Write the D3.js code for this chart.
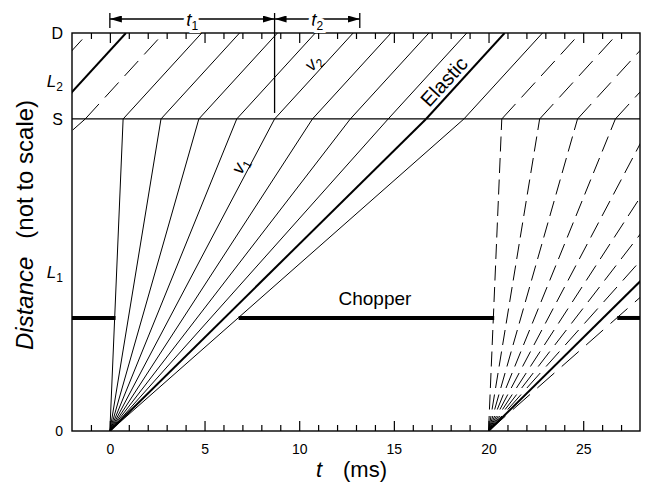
<!DOCTYPE html>
<html>
<head>
<meta charset="utf-8">
<script src="https://cdn.jsdelivr.net/npm/d3@7"></script>
<style>
  body { margin: 0; background: #fff; }
  svg { display: block; font-family: "Liberation Sans", Arial, sans-serif; }
</style>
</head>
<body>
<div class="chart"></div>
<script>
// times in ms, distances in arbitrary units (the plot is "not to scale")
const frameStarts = [-20, 0, 20];
const sampleTimes = [0.7, 2.7, 4.7, 6.7, 8.7, 10.7, 12.7, 14.7, 16.7, 18.7];
const elasticTime = 16.7;
const finalFlightTime = 4.15;
const chopperPos = 2.84;
const samplePos = 7.84;
const detectorPos = 10;
const chopperClosed = [[-2, 0.3], [6.8, 20.3], [26.8, 28]];
const majorTicks = [0, 5, 10, 15, 20, 25];
const minorTicks = [-1, 1, 2, 3, 4, 6, 7, 8, 9, 11, 12, 13, 14, 16, 17, 18, 19, 21, 22, 23, 24, 26, 27];
const distanceLabels = [['0', 0], ['S', samplePos], ['D', detectorPos]];
const lengthLabels = [['1', 4.0], ['2', 8.8]];
const t1Span = [0, 8.7];
const t2Span = [8.7, 13.2];

const margin = { left: 72, right: 5, top: 33, bottom: 54 };
const W = 645, H = 485;

const svg = d3.select('.chart')
  .append('svg')
    .attr('width', W)
    .attr('height', H);

const x = d3.scaleLinear().domain([-2, 28]).range([margin.left, W - margin.right]);
const y = d3.scaleLinear().domain([0, detectorPos]).range([H - margin.bottom, margin.top]);

const defs = svg.append('defs');
defs.append('clipPath')
    .attr('id', 'clip')
  .append('rect')
    .attr('x', x(-2))
    .attr('y', y(detectorPos))
    .attr('width', x(28) - x(-2))
    .attr('height', y(0) - y(detectorPos));

defs.append('marker')
    .attr('id', 'arrow')
    .attr('viewBox', '0 0 12 7')
    .attr('refX', 12)
    .attr('refY', 3.5)
    .attr('markerWidth', 12)
    .attr('markerHeight', 7)
    .attr('markerUnits', 'userSpaceOnUse')
    .attr('orient', 'auto-start-reverse')
  .append('path')
    .attr('d', 'M0,0L12,3.5L0,7z')
    .attr('fill', '#000');

// neutron trajectories: source -> sample (v1), sample -> detector (v2)
const segments = [];
frameStarts.forEach(f => {
  sampleTimes.forEach(ts => {
    const elastic = ts === elasticTime;
    const dashed = f !== 0 && !elastic;
    segments.push({ pts: [[f, 0], [f + ts, samplePos]], elastic, dashed });
    segments.push({ pts: [[f + ts, samplePos], [f + ts + finalFlightTime, detectorPos]], elastic, dashed });
  });
});

const line = d3.line().x(d => x(d[0])).y(d => y(d[1]));

const plot = svg.append('g')
    .attr('clip-path', 'url(#clip)');

plot.selectAll('.ray')
  .data(segments)
  .enter()
  .append('path')
    .attr('class', 'ray')
    .attr('d', d => line(d.pts))
    // dash pattern measured in vertical pixels so dashes line up across rays
    .attr('pathLength', d => Math.abs(y(d.pts[0][1]) - y(d.pts[1][1])))
    .attr('stroke-dasharray', d => d.dashed ? '15 6.5' : null)
    .attr('fill', 'none')
    .attr('stroke', '#000')
    .attr('stroke-width', d => d.elastic ? 2 : 1);

// sample line
plot.append('line')
    .attr('x1', x(-2))
    .attr('x2', x(28))
    .attr('y1', y(samplePos))
    .attr('y2', y(samplePos))
    .attr('stroke', '#000')
    .attr('stroke-width', 1.2);

// chopper closed
plot.selectAll('.chopper')
  .data(chopperClosed)
  .enter()
  .append('line')
    .attr('x1', d => x(d[0]))
    .attr('x2', d => x(d[1]))
    .attr('y1', y(chopperPos))
    .attr('y2', y(chopperPos))
    .attr('stroke', '#000')
    .attr('stroke-width', 4);

// axes
const addTicks = (axis, yPos, values, size, labels) => {
  const g = svg.append('g')
      .attr('transform', `translate(0,${yPos})`)
      .call(axis(x).tickValues(values).tickSize(size).tickSizeOuter(0).tickPadding(13)
        .tickFormat(labels ? d3.format('d') : ''));
  g.select('.domain').remove();
  g.selectAll('line').attr('stroke-width', 1.2);
  g.selectAll('text')
      .attr('font-size', 14)
      .attr('font-family', '"Liberation Sans", Arial, sans-serif');
};
addTicks(d3.axisBottom, y(0), majorTicks, -10, true);
addTicks(d3.axisBottom, y(0), minorTicks, -6, false);
addTicks(d3.axisTop, y(detectorPos), majorTicks, -10, false);
addTicks(d3.axisTop, y(detectorPos), minorTicks, -6, false);

svg.append('rect')
    .attr('x', x(-2))
    .attr('y', y(detectorPos))
    .attr('width', x(28) - x(-2))
    .attr('height', y(0) - y(detectorPos))
    .attr('fill', 'none')
    .attr('stroke', '#000')
    .attr('stroke-width', 1.4);

// distance labels
svg.selectAll('.dlab')
  .data(distanceLabels)
  .enter()
  .append('text')
    .attr('x', 63)
    .attr('y', d => y(d[1]))
    .attr('dy', '0.35em')
    .attr('text-anchor', 'end')
    .attr('font-size', d => d[0] === '0' ? 14 : 16)
    .text(d => d[0]);

const lLab = svg.selectAll('.llab')
  .data(lengthLabels)
  .enter()
  .append('text')
    .attr('x', 63)
    .attr('y', d => y(d[1]))
    .attr('dy', '0.35em')
    .attr('text-anchor', 'end')
    .attr('font-size', 17);
lLab.append('tspan').attr('font-style', 'italic').text('L');
lLab.append('tspan').attr('font-size', 12).attr('dy', 4).text(d => d[0]);

// axis titles
const yTitle = svg.append('text')
    .attr('transform', `translate(33,${y(0) - 81}) rotate(-90)`)
    .attr('font-size', 24);
yTitle.append('tspan').attr('font-style', 'italic').text('Distance');
yTitle.append('tspan').attr('dx', 18).text('(not to scale)');

svg.append('text')
    .attr('x', 316)
    .attr('y', 477)
    .attr('font-size', 22)
    .attr('font-style', 'italic')
    .text('t');
svg.append('text')
    .attr('x', 343)
    .attr('y', 477)
    .attr('font-size', 22)
    .text('(ms)');

// chopper label
svg.append('text')
    .attr('x', x(14))
    .attr('y', y(chopperPos) - 13)
    .attr('text-anchor', 'middle')
    .attr('font-size', 19)
    .text('Chopper');

// labels sitting just above a trajectory, rotated along it
const alongLabel = (p0, p1, frac, offset) => {
  const px0 = x(p0[0]), py0 = y(p0[1]), px1 = x(p1[0]), py1 = y(p1[1]);
  const ang = Math.atan2(py1 - py0, px1 - px0) * 180 / Math.PI;
  const t = svg.append('text')
      .attr('transform', `translate(${px0 + frac * (px1 - px0)},${py0 + frac * (py1 - py0)}) rotate(${ang})`)
      .attr('dy', offset)
      .attr('text-anchor', 'middle');
  return t;
};
const eS = [elasticTime, samplePos], eD = [elasticTime + finalFlightTime, detectorPos];
alongLabel(eS, eD, 0.34, -5).attr('font-size', 20).text('Elastic');

const v1 = alongLabel([0, 0], [8.7, samplePos], 0.837, -3).attr('font-size', 18);
v1.append('tspan').attr('font-style', 'italic').text('v');
v1.append('tspan').attr('font-size', 12).attr('dy', 4).text('1');

const v2 = alongLabel([8.7, samplePos], [8.7 + finalFlightTime, detectorPos], 0.58, -4).attr('font-size', 18);
v2.append('tspan').attr('font-style', 'italic').text('v');
v2.append('tspan').attr('font-size', 12).attr('dy', 4).text('2');

// t1 / t2 span arrows
const arrowY = 19;
[t1Span, t2Span].forEach((span, i) => {
  svg.append('line')
      .attr('x1', x(span[0]))
      .attr('x2', x(span[1]))
      .attr('y1', arrowY)
      .attr('y2', arrowY)
      .attr('stroke', '#000')
      .attr('stroke-width', 1.3)
      .attr('marker-start', 'url(#arrow)')
      .attr('marker-end', 'url(#arrow)');
  const lab = svg.append('text')
      .attr('x', (x(span[0]) + x(span[1])) / 2)
      .attr('y', arrowY + 7)
      .attr('text-anchor', 'middle')
      .attr('font-size', 19)
      .attr('stroke', '#fff')
      .attr('stroke-width', 6)
      .attr('paint-order', 'stroke');
  lab.append('tspan').attr('font-style', 'italic').text('t');
  lab.append('tspan').attr('font-size', 12).attr('dy', 4).text(i + 1);
});
[t1Span[0], t2Span[1]].forEach(t => {
  svg.append('line')
      .attr('x1', x(t)).attr('x2', x(t))
      .attr('y1', 13).attr('y2', 28)
      .attr('stroke', '#000')
      .attr('stroke-width', 1.3);
});
svg.append('line')
    .attr('x1', x(t1Span[1])).attr('x2', x(t1Span[1]))
    .attr('y1', 13).attr('y2', y(samplePos) - 6)
    .attr('stroke', '#000')
    .attr('stroke-width', 1.3);
</script>
</body>
</html>
